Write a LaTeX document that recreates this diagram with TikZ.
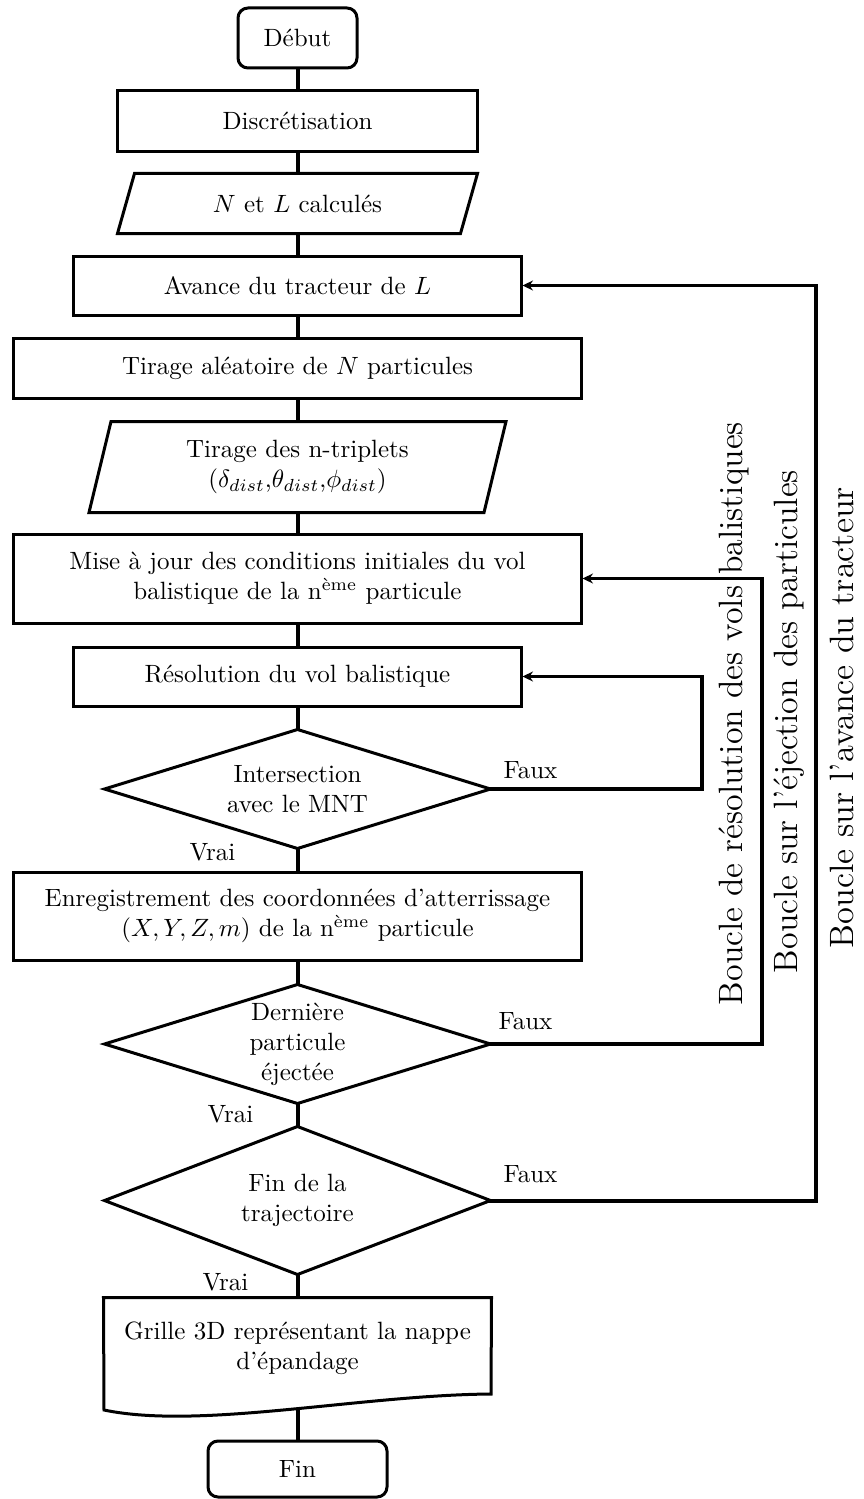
\documentclass[tikz,border=0pt]{standalone}
\usepackage{graphicx}
\usetikzlibrary{arrows.meta}
\begin{document}
\begin{tikzpicture}[x=0.4pt,y=-0.4pt,
  box/.style={draw, line width=1.2pt, inner sep=0pt, align=center},
  plain/.style={inner sep=0pt, align=center},
  shapeline/.style={line width=1.2pt, line join=miter},
  conn/.style={line width=1.6pt},
  ret/.style={line width=0.9pt, -{Stealth[length=4.2pt,width=4pt,inset=1.4pt]}},
  lbl/.style={inner sep=0pt, anchor=base west},
  loopl/.style={rotate=90, anchor=base, inner sep=0pt}]
\useasboundingbox (0,0) rectangle (863,1499);

% nodes
\node[box, rounded corners=4pt, minimum width=47.6pt, minimum height=24pt] (debut) at (297.5,38) {Début};
\node[box, minimum width=143.6pt, minimum height=24pt] (disc) at (297.5,121) {Discrétisation};
\node[plain, minimum width=143.6pt, minimum height=23.6pt] (nl) at (297.5,203.5) {$N$ et $L$ calculés};
\draw[shapeline] ([xshift=6.8pt]nl.north west) -- (nl.north east) -- ([xshift=-6.8pt]nl.south east) -- (nl.south west) -- cycle;
\node[box, minimum width=178.8pt, minimum height=23.6pt] (avance) at (297.5,285.5) {Avance du tracteur de $L$};
\node[box, minimum width=226.8pt, minimum height=24pt] (tirage) at (297.5,368) {Tirage aléatoire de $N$ particules};
\node[plain, minimum width=166.4pt, minimum height=36pt] (trip) at (297.5,467) {Tirage des n-triplets\\($\delta_{dist}$,$\theta_{dist}$,$\phi_{dist}$)};
\draw[shapeline] ([xshift=8.8pt]trip.north west) -- (trip.north east) -- ([xshift=-8.8pt]trip.south east) -- (trip.south west) -- cycle;
\node[box, minimum width=226.8pt, minimum height=35.6pt] (maj) at (297.5,578.5) {Mise à jour des conditions initiales du vol\\balistique de la n\textsuperscript{ème} particule};
\node[box, minimum width=178.8pt, minimum height=23.6pt] (resol) at (297.5,676.5) {Résolution du vol balistique};
\node[plain, minimum width=154pt, minimum height=47.2pt] (inter) at (297.5,789) {Intersection\\avec le MNT};
\draw[shapeline] (inter.north) -- (inter.east) -- (inter.south) -- (inter.west) -- cycle;
\node[box, minimum width=226.8pt, minimum height=35.2pt] (enreg) at (297.5,916) {Enregistrement des coordonnées d'atterrissage\\$(X,Y,Z,m)$ de la n\textsuperscript{ème} particule};
\node[plain, minimum width=154pt, minimum height=47.2pt] (dern) at (297.5,1044) {Dernière\\particule\\éjectée};
\draw[shapeline] (dern.north) -- (dern.east) -- (dern.south) -- (dern.west) -- cycle;
\node[plain, minimum width=154pt, minimum height=58.8pt] (fint) at (297.5,1200.5) {Fin de la\\trajectoire};
\draw[shapeline] (fint.north) -- (fint.east) -- (fint.south) -- (fint.west) -- cycle;
\node[plain, minimum width=154.8pt, minimum height=40pt] (grille) at (297.5,1348) {Grille 3D représentant la nappe\\d'épandage};
\draw[shapeline] (104,1410) -- (grille.north west) -- (grille.north east) -- (491,1394) .. controls (360,1395) and (200,1430) .. (104,1410) -- cycle;
\coordinate (gw) at (297.5,1409);
\node[box, rounded corners=4pt, minimum width=71.6pt, minimum height=22.4pt] (fin) at (297.5,1469) {Fin};

% trunk connectors
\draw[conn] (debut) -- (disc);
\draw[conn] (disc) -- (nl);
\draw[conn] (nl) -- (avance);
\draw[conn] (avance) -- (tirage);
\draw[conn] (tirage) -- (trip);
\draw[conn] (trip) -- (maj);
\draw[conn] (maj) -- (resol);
\draw[conn] (resol) -- (inter);
\draw[conn] (inter) -- (enreg);
\draw[conn] (enreg) -- (dern);
\draw[conn] (dern) -- (fint);
\draw[conn] (fint) -- (grille);
\draw[conn] (gw) -- (fin);

% loops
\coordinate (c1) at (702,789);
\coordinate (c1t) at (702,676.5);
\draw[conn, line cap=rect] (inter.east) -- (c1) -- (c1t);
\draw[ret] (c1t) -- (resol.east);
\coordinate (c2) at (762,1044);
\coordinate (c2t) at (762,578.5);
\draw[conn, line cap=rect] (dern.east) -- (c2) -- (c2t);
\draw[ret] (c2t) -- (maj.east);
\coordinate (c3) at (816,1200.5);
\coordinate (c3t) at (816,285.5);
\draw[conn, line cap=rect] (fint.east) -- (c3) -- (c3t);
\draw[ret] (c3t) -- (avance.east);

% labels
\node[lbl] (f1) at (503,778) {Faux};
\node[lbl] (f2) at (498,1029) {Faux};
\node[lbl] (f3) at (503,1182) {Faux};
\node[lbl] (v1) at (189,860) {Vrai};
\node[lbl] (v2) at (207,1122) {Vrai};
\node[lbl] (v3) at (202,1290) {Vrai};

\node[loopl] (b1) at (742,713.5) {\resizebox{233.2pt}{\height}{\fontsize{13.5}{16}\selectfont Boucle de résolution des vols balistiques}};
\node[loopl] (b2) at (797,721.5) {\resizebox{201.2pt}{\height}{\fontsize{13.5}{16}\selectfont Boucle sur l'éjection des particules}};
\node[loopl] (b3) at (853,717.5) {\resizebox{184.4pt}{\height}{\fontsize{13.5}{16}\selectfont Boucle sur l'avance du tracteur}};
\end{tikzpicture}
\end{document}
